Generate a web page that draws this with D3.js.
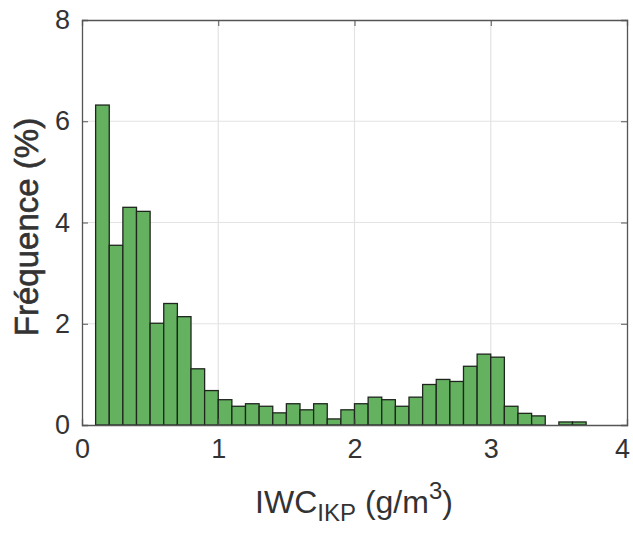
<!DOCTYPE html>
<html>
<head>
<meta charset="utf-8">
<script src="https://cdn.jsdelivr.net/npm/d3@7"></script>
<style>
  html, body { margin: 0; padding: 0; background: #fff; }
  svg { display: block; }
</style>
</head>
<body>
<svg id="chart" width="633" height="539"></svg>
<script>
// ---- data ----
const binLeft = [0.1,0.2,0.3,0.4,0.5,0.6,0.7,0.8,0.9,1.0,1.1,1.2,1.3,1.4,1.5,1.6,1.7,1.8,1.9,2.0,2.1,2.2,2.3,2.4,2.5,2.6,2.7,2.8,2.9,3.0,3.1,3.2,3.3,3.4,3.5,3.6];
const binWidth = 0.1;
const frequency = [6.32,3.55,4.30,4.22,2.01,2.40,2.14,1.11,0.68,0.50,0.37,0.42,0.37,0.24,0.42,0.30,0.42,0.12,0.30,0.42,0.55,0.50,0.37,0.55,0.80,0.90,0.86,1.16,1.40,1.34,0.37,0.23,0.18,0.00,0.06,0.06];
const xTicks = [0,1,2,3,4];
const yTicks = [0,2,4,6,8];
const xDomain = [0,4];
const yDomain = [0,8];

// ---- layout ----
const svg = d3.select("#chart");
const pLeft = 82, pRight = 627, pTop = 20, pBottom = 425;
const x = d3.scaleLinear().domain(xDomain).range([pLeft, pRight]);
const y = d3.scaleLinear().domain(yDomain).range([pBottom, pTop]);
const font = "'Liberation Sans', Arial, Helvetica, sans-serif";
const textColor = "#333333";
const axisColor = "#555555";

// grid
const g = svg.append("g");
g.selectAll("line.gx").data(xTicks.slice(1, -1)).join("line")
  .attr("x1", d => x(d)).attr("x2", d => x(d)).attr("y1", pTop).attr("y2", pBottom)
  .attr("stroke", "#e3e3e3").attr("stroke-width", 1.2);
g.selectAll("line.gy").data(yTicks.slice(1, -1)).join("line")
  .attr("y1", d => y(d)).attr("y2", d => y(d)).attr("x1", pLeft).attr("x2", pRight)
  .attr("stroke", "#e3e3e3").attr("stroke-width", 1.2);

// bars
svg.append("g").selectAll("rect").data(binLeft.map((b, i) => ({b, v: frequency[i]})).filter(d => d.v > 0))
  .join("rect")
  .attr("x", d => x(d.b))
  .attr("width", d => x(d.b + binWidth) - x(d.b))
  .attr("y", d => y(d.v))
  .attr("height", d => y(0) - y(d.v))
  .attr("fill", "#64b25f")
  .attr("stroke", "#1e261e")
  .attr("stroke-width", 1.3);

// axes (box)
const axB = d3.axisBottom(x).tickValues(xTicks).tickSize(-6).tickPadding(14).tickFormat(d3.format("d"));
const axL = d3.axisLeft(y).tickValues(yTicks).tickSize(-6).tickPadding(12).tickFormat(d3.format("d"));
const axT = d3.axisTop(x).tickValues(xTicks).tickSize(-6).tickFormat("");
const axR = d3.axisRight(y).tickValues(yTicks).tickSize(-6).tickFormat("");

function style(sel) {
  sel.selectAll("path").attr("stroke", axisColor).attr("stroke-width", 1.3);
  sel.selectAll("line").attr("stroke", axisColor).attr("stroke-width", 1);
  sel.selectAll("text").attr("fill", textColor).style("font-family", font).style("font-size", "27px");
}
const gB = svg.append("g").attr("transform", `translate(0,${pBottom})`).call(axB).call(style);
// keep the last x tick label inside the window
gB.selectAll(".tick text").filter(d => d === xDomain[1]).attr("dx", -5);
svg.append("g").attr("transform", `translate(${pLeft},0)`).call(axL).call(style);
svg.append("g").attr("transform", `translate(0,${pTop})`).call(axT).call(style);
svg.append("g").attr("transform", `translate(${pRight},0)`).call(axR).call(style);

// x label
const xl = svg.append("text")
  .attr("x", 354).attr("y", 513)
  .attr("text-anchor", "middle")
  .attr("fill", textColor)
  .style("font-family", font).style("font-size", "32px");
xl.append("tspan").text("IWC");
xl.append("tspan").attr("dy", 8).style("font-size", "24px").text("IKP");
xl.append("tspan").attr("dy", -8).text(" (g/m");
xl.append("tspan").attr("dy", -14).style("font-size", "24px").text("3");
xl.append("tspan").attr("dy", 14).text(")");

// y label
svg.append("text")
  .attr("transform", `translate(38,227) rotate(-90)`)
  .attr("text-anchor", "middle")
  .attr("fill", textColor)
  .attr("stroke", textColor).attr("stroke-width", 0.6)
  .style("font-family", font).style("font-size", "33px")
  .text("Fréquence (%)");
</script>
</body>
</html>
